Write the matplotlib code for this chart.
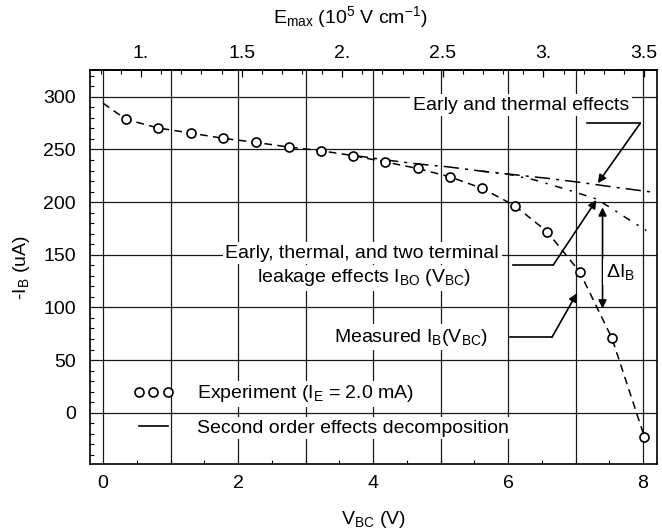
import matplotlib
matplotlib.use("Agg")
import matplotlib.pyplot as plt
from matplotlib.lines import Line2D
from matplotlib.ticker import MultipleLocator, FixedLocator, FixedFormatter

plt.rcParams['font.family'] = ['Liberation Sans', 'DejaVu Sans']
plt.rcParams['mathtext.fontset'] = 'custom'
plt.rcParams['mathtext.rm'] = 'Liberation Sans'
plt.rcParams['mathtext.it'] = 'Liberation Sans:italic'

# ---------------- data ----------------
# experiment points
v_exp = [0.34, 0.82, 1.30, 1.78, 2.26, 2.75, 3.23, 3.71, 4.18, 4.66, 5.14,
         5.62, 6.10, 6.58, 7.06, 7.54, 8.02]
i_exp = [278.6, 270.4, 265.6, 260.6, 256.8, 252.3, 248.8, 244.1, 238.2, 232.0,
         224.0, 213.0, 196.6, 171.9, 133.9, 70.7, -22.8]
# measured curve (dashed)
v_meas = [0.0] + v_exp
i_meas = [294.0] + i_exp
# early and thermal effects (dash-dot)
v_et = [3.7, 4.2, 4.7, 5.1, 5.6, 6.1, 6.6, 7.1, 7.6, 8.2]
i_et = [244.5, 240.0, 236.0, 233.6, 229.5, 226.0, 222.5, 218.5, 214.0, 209.0]
# early, thermal and leakage effects I_BO (dash-dot)
v_bo = [5.6, 6.0, 6.4, 6.87, 7.31, 7.56, 7.8, 8.05]
i_bo = [229.5, 226.5, 221.0, 212.0, 203.0, 193.0, 183.0, 173.0]

# axis
x_ticks = [0, 2, 4, 6, 8]
y_ticks = [0, 50, 100, 150, 200, 250, 300]
e_ticks = [1.0, 1.5, 2.0, 2.5, 3.0, 3.5]
e_labels = ['1.', '1.5', '2.', '2.5', '3.', '3.5']
E0, E_SLOPE = 0.811, 0.3355   # E_max = E0 + E_SLOPE * V_BC

# annotation geometry (data coords)
ann_et_text = (6.19, 292.0)
ann_et_path = [(7.17, 275.0), (7.96, 275.0), (7.33, 218.0)]
ann_bo_text1 = (3.84, 151.5)
ann_bo_text2 = (3.87, 128.0)
ann_bo_path = [(6.07, 140.3), (6.67, 140.3), (7.31, 202.0)]
ann_me_text = (4.56, 71.8)
ann_me_path = [(6.03, 71.6), (6.65, 71.6), (7.02, 113.4)]
delta_v, delta_top, delta_bot = 7.40, 195.0, 99.0
delta_text = (7.66, 133.6)

FS = 14

fig = plt.figure(figsize=(6.62, 5.31), dpi=100)
ax = fig.add_axes([90/662, 1-464.3/531, 567/662, (464.3-70)/531])
ax.set_xlim(-0.193, 8.207)
ax.set_ylim(-49.0, 325.5)

# grid
ax.set_axisbelow(True)
ax.xaxis.set_major_locator(FixedLocator(x_ticks))
ax.yaxis.set_major_locator(FixedLocator(y_ticks))
for v in range(0, 9):
    ax.axvline(v, color='#1a1a1a', lw=0.9, zorder=0.5)
for y in y_ticks:
    ax.axhline(y, color='#1a1a1a', lw=0.9, zorder=0.5)
ax.xaxis.set_minor_locator(MultipleLocator(0.5))
ax.yaxis.set_minor_locator(MultipleLocator(10))
ax.tick_params(which='both', direction='in', labelsize=FS, top=False, right=False)
ax.tick_params(axis='x', which='major', length=0, pad=8)
ax.tick_params(axis='y', which='major', length=0, pad=10)
ax.tick_params(which='minor', length=3, width=0.8)
for s in ax.spines.values():
    s.set_linewidth(1.2)

# curves
ax.plot(v_meas, i_meas, color='black', lw=1.1, dashes=(5, 3.5), zorder=2)
ax.plot(v_et, i_et, color='black', lw=1.1, dashes=(10, 4, 2, 4), zorder=2)
ax.plot(v_bo, i_bo, color='black', lw=1.1, dashes=(5, 5, 1.5, 5), zorder=2)
ax.plot(v_exp, i_exp, linestyle='none', marker='o', ms=6.5, mfc='white',
        mec='black', mew=1.2, zorder=3)

bb = dict(facecolor='white', edgecolor='none', pad=2)

# annotations
ax.text(*ann_et_text, 'Early and thermal effects', fontsize=FS, ha='center',
        va='center', bbox=bb, zorder=4)
xs, ys = zip(*ann_et_path[:2])
ax.plot(xs, ys, color='black', lw=1.2, zorder=4)
ax.annotate('', xy=ann_et_path[2], xytext=ann_et_path[1],
            arrowprops=dict(arrowstyle='-|>', color='black', lw=1.2,
                            mutation_scale=12, shrinkA=0, shrinkB=0), zorder=4)

ax.text(*ann_bo_text1, 'Early, thermal, and two terminal', fontsize=FS,
        ha='center', va='center', bbox=bb, zorder=4)
ax.text(*ann_bo_text2, r'leakage effects I$_\mathregular{BO}$ (V$_\mathregular{BC}$)',
        fontsize=FS, ha='center', va='center', bbox=bb, zorder=4)
xs, ys = zip(*ann_bo_path[:2])
ax.plot(xs, ys, color='black', lw=1.2, zorder=4)
ax.annotate('', xy=ann_bo_path[2], xytext=ann_bo_path[1],
            arrowprops=dict(arrowstyle='-|>', color='black', lw=1.2,
                            mutation_scale=12, shrinkA=0, shrinkB=0), zorder=4)

ax.text(*ann_me_text, r'Measured I$_\mathregular{B}$(V$_\mathregular{BC}$)', fontsize=FS,
        ha='center', va='center', bbox=bb, zorder=4)
xs, ys = zip(*ann_me_path[:2])
ax.plot(xs, ys, color='black', lw=1.2, zorder=4)
ax.annotate('', xy=ann_me_path[2], xytext=ann_me_path[1],
            arrowprops=dict(arrowstyle='-|>', color='black', lw=1.2,
                            mutation_scale=12, shrinkA=0, shrinkB=0), zorder=4)

ax.annotate('', xy=(delta_v, delta_bot), xytext=(delta_v, delta_top),
            arrowprops=dict(arrowstyle='<|-|>', color='black', lw=1.2,
                            mutation_scale=12, shrinkA=0, shrinkB=0), zorder=4)
ax.text(*delta_text, r'ΔI$_\mathregular{B}$', fontsize=FS, ha='center', va='center',
        bbox=bb, zorder=4)

# legend
h1 = Line2D([], [], linestyle='none', marker='o', ms=6.5, mfc='white', mec='black', mew=1.2)
h2 = Line2D([], [], color='black', lw=1.2)
leg = ax.legend([h1, h2], [r'Experiment (I$_\mathregular{E}$ = 2.0 mA)',
                           'Second order effects decomposition'],
                loc='center left', bbox_to_anchor=((133-90)/567, (464.3-410)/394.3),
                frameon=False, fontsize=FS, numpoints=3, handlelength=2.1,
                handletextpad=1.2, labelspacing=0.75, borderpad=0, borderaxespad=0)
for t in leg.get_texts():
    t.set_bbox(bb)

# labels
ax.set_xlabel(r'V$_\mathregular{BC}$ (V)', fontsize=FS, labelpad=12)
ax.set_ylabel(r'-I$_\mathregular{B}$ (uA)', fontsize=FS, labelpad=8)

# top axis
def v2e(v):
    return E0 + E_SLOPE * v

def e2v(e):
    return (e - E0) / E_SLOPE

sec = ax.secondary_xaxis('top', functions=(v2e, e2v))
sec.xaxis.set_major_locator(FixedLocator(e_ticks))
sec.xaxis.set_major_formatter(FixedFormatter(e_labels))
sec.xaxis.set_minor_locator(MultipleLocator(0.1))
sec.tick_params(which='both', direction='in', labelsize=FS)
sec.tick_params(which='major', length=5, width=0.9, pad=6)
sec.tick_params(which='minor', length=3, width=0.8)
sec.spines['top'].set_linewidth(1.2)
fig.text(350/662, 1-17/531,
         r'E$_\mathregular{max}$ (10$^\mathregular{5}$ V cm$^\mathregular{-1}$)',
         fontsize=FS, ha='center', va='center')

fig.savefig('out.png', dpi=100)
